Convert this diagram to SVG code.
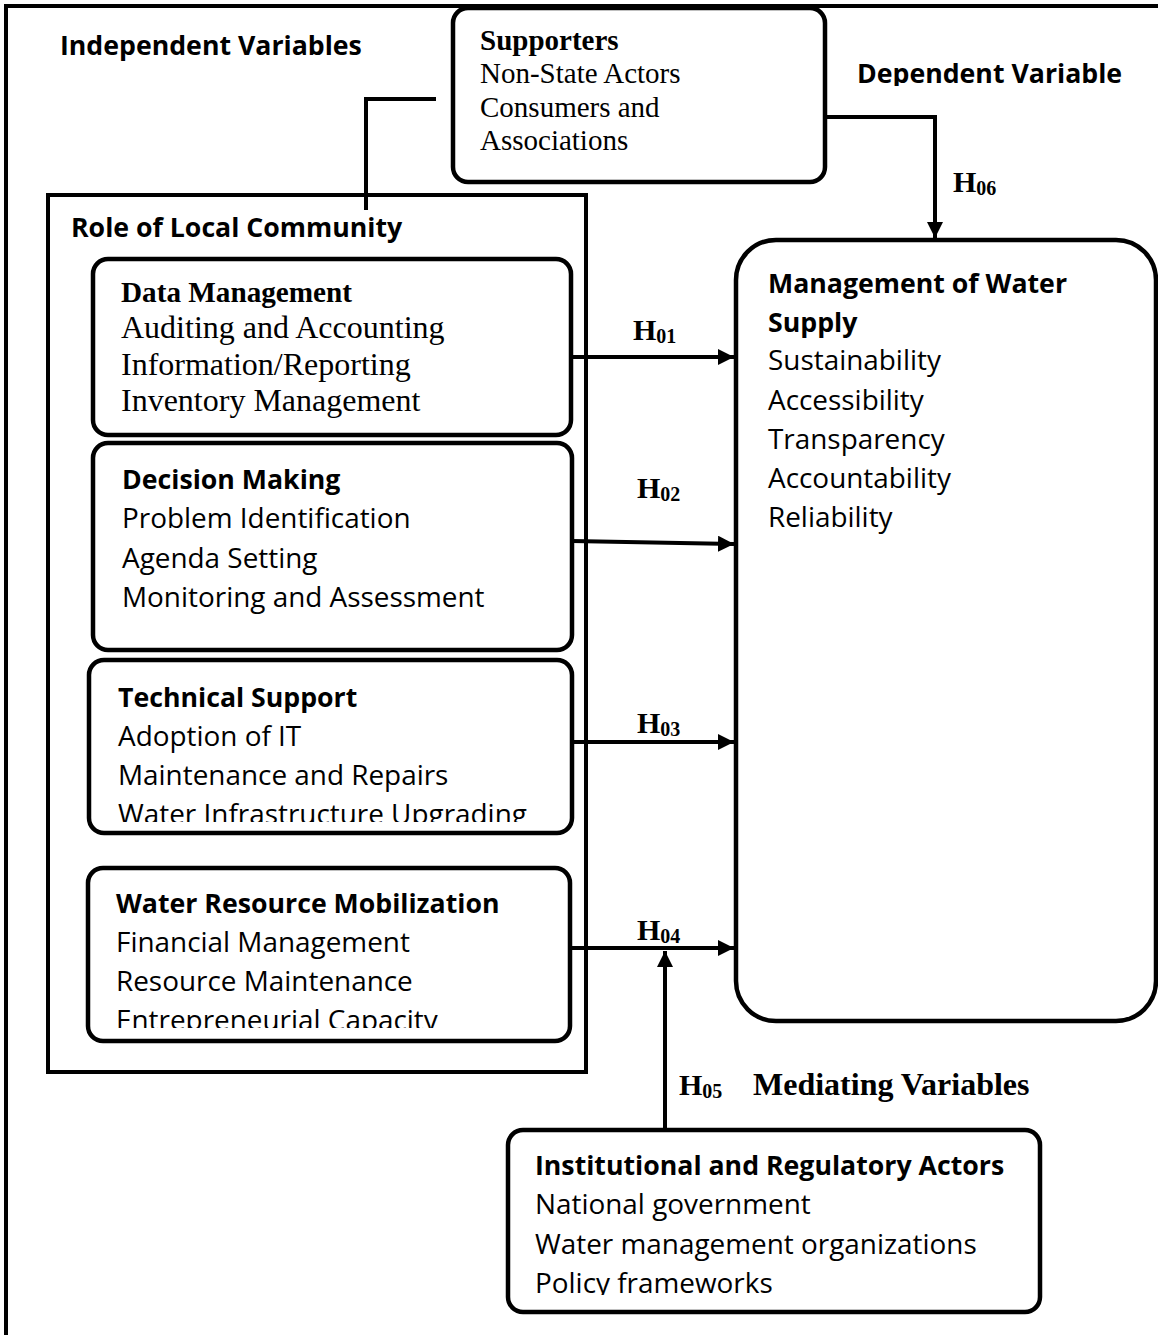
<svg xmlns="http://www.w3.org/2000/svg" width="1158" height="1335" viewBox="0 0 1158 1335">
<defs>
<style>
.box{fill:#fff;stroke:#000;stroke-width:4.5}
.frame{fill:none;stroke:#000;stroke-width:4}
.ln{fill:none;stroke:#000;stroke-width:4}
.sb{font-family:"Open Sans","Liberation Sans",sans-serif;font-weight:bold;font-size:26.7px;fill:#000}
.sr{font-family:"Open Sans","Liberation Sans",sans-serif;font-size:27.9px;fill:#000}
.tb{font-family:"Liberation Serif","Times New Roman",serif;font-weight:bold;fill:#000}
.tr{font-family:"Liberation Serif","Times New Roman",serif;fill:#000}
.h{font-family:"Liberation Serif","Times New Roman",serif;font-weight:bold;font-size:30px;fill:#000}
.sub{font-size:20px}
</style>
<marker id="ah" markerUnits="userSpaceOnUse" markerWidth="18" markerHeight="16" refX="16" refY="8" orient="auto">
<path d="M0,0 L16,8 L0,16 Z" fill="#000"/>
</marker>
<clipPath id="cDep"><rect x="840" y="50" width="300" height="36"/></clipPath>
<clipPath id="cTech"><rect x="90" y="660" width="480" height="162"/></clipPath>
<clipPath id="cWater"><rect x="90" y="868" width="480" height="160"/></clipPath>
<clipPath id="cInst"><rect x="510" y="1130" width="528" height="165"/></clipPath>
</defs>
<rect width="1158" height="1335" fill="#fff"/>
<rect class="frame" x="6" y="6" width="1160" height="1340"/>

<g id="labels">
<text class="sb" x="60" y="55">Independent Variables</text>
<text class="sb" x="857" y="83" font-size="24.3" clip-path="url(#cDep)">Dependent Variable</text>
</g>

<g id="role">
<rect class="frame" x="48" y="195" width="538" height="877"/>
<text class="sb" x="71" y="237">Role of Local Community</text>
</g>

<g id="connectors">
<path class="ln" d="M436,99 H366 V210"/>
<path class="ln" d="M825,117 H935 V238" marker-end="url(#ah)"/>
<path class="ln" d="M571,357 H734" marker-end="url(#ah)"/>
<path class="ln" d="M572,541 L734,544" marker-end="url(#ah)"/>
<path class="ln" d="M572,742 H734" marker-end="url(#ah)"/>
<path class="ln" d="M570,948 H734" marker-end="url(#ah)"/>
<path class="ln" d="M665,1130 V951" marker-end="url(#ah)"/>
<text class="h" x="953" y="192">H<tspan class="sub" dy="3">06</tspan></text>
<text class="h" x="633" y="340">H<tspan class="sub" dy="3">01</tspan></text>
<text class="h" x="637" y="498">H<tspan class="sub" dy="3">02</tspan></text>
<text class="h" x="637" y="733">H<tspan class="sub" dy="3">03</tspan></text>
<text class="h" x="637" y="940">H<tspan class="sub" dy="3">04</tspan></text>
<text class="h" x="679" y="1095">H<tspan class="sub" dy="3">05</tspan></text>
<text class="tb" x="753" y="1095" font-size="32">Mediating Variables</text>
</g>

<g id="supporters">
<rect class="box" x="453" y="8" width="372" height="174" rx="15"/>
<text class="tb" x="480" y="50" font-size="29">Supporters</text>
<text class="tr" x="480" y="83" font-size="29">Non-State Actors</text>
<text class="tr" x="480" y="117" font-size="29">Consumers and</text>
<text class="tr" x="480" y="150" font-size="29">Associations</text>
</g>

<g id="data-management">
<rect class="box" x="93" y="259" width="478" height="176" rx="15"/>
<text class="tb" x="121" y="302" font-size="29.2">Data Management</text>
<text class="tr" x="121" y="338" font-size="32">Auditing and Accounting</text>
<text class="tr" x="121" y="375" font-size="32">Information/Reporting</text>
<text class="tr" x="121" y="411" font-size="32">Inventory Management</text>
</g>

<g id="decision-making">
<rect class="box" x="93" y="443" width="479" height="207" rx="15"/>
<text class="sb" x="122" y="489">Decision Making</text>
<text class="sr" x="122" y="528">Problem Identification</text>
<text class="sr" x="122" y="568">Agenda Setting</text>
<text class="sr" x="122" y="607">Monitoring and Assessment</text>
</g>

<g id="technical-support">
<rect class="box" x="89" y="660" width="483" height="173" rx="15"/>
<text class="sb" x="118" y="707">Technical Support</text>
<text class="sr" x="118" y="746">Adoption of IT</text>
<text class="sr" x="118" y="785">Maintenance and Repairs</text>
<text class="sr" x="118" y="824" clip-path="url(#cTech)">Water Infrastructure Upgrading</text>
</g>

<g id="water-resource-mobilization">
<rect class="box" x="88" y="868" width="482" height="173" rx="15"/>
<text class="sb" x="116" y="913">Water Resource Mobilization</text>
<text class="sr" x="116" y="952">Financial Management</text>
<text class="sr" x="116" y="991">Resource Maintenance</text>
<text class="sr" x="116" y="1030" clip-path="url(#cWater)">Entrepreneurial Capacity</text>
</g>

<g id="management-water-supply">
<rect class="box" x="736" y="240" width="420" height="781" rx="40"/>
<text class="sb" x="768" y="293">Management of Water</text>
<text class="sb" x="768" y="332">Supply</text>
<text class="sr" x="768" y="370">Sustainability</text>
<text class="sr" x="768" y="410">Accessibility</text>
<text class="sr" x="768" y="449">Transparency</text>
<text class="sr" x="768" y="488">Accountability</text>
<text class="sr" x="768" y="527">Reliability</text>
</g>

<g id="institutional-actors">
<rect class="box" x="508" y="1130" width="532" height="182" rx="15"/>
<text class="sb" x="535" y="1175">Institutional and Regulatory Actors</text>
<text class="sr" x="535" y="1214">National government</text>
<text class="sr" x="535" y="1254">Water management organizations</text>
<text class="sr" x="535" y="1293" clip-path="url(#cInst)">Policy frameworks</text>
</g>
</svg>
